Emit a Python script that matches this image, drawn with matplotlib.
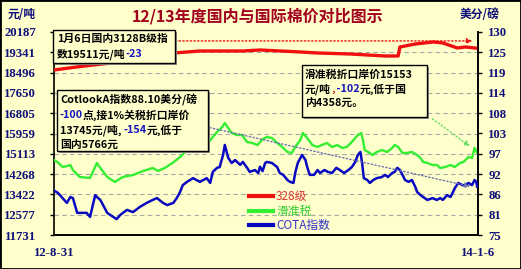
import matplotlib
matplotlib.use('Agg')
import matplotlib.pyplot as plt
from matplotlib.patches import Rectangle
from matplotlib.lines import Line2D

# 328级 (元/吨, 左轴)
red_day = [0, 20, 40, 60, 85, 110, 140, 170, 220, 240, 287, 307, 345, 386, 401, 403,
           421, 442, 453, 470, 479, 493]
red_val = [18605, 18700, 18790, 18870, 18940, 19150, 19313, 19396, 19396, 19438, 19355,
           19313, 19271, 19188, 19188, 19563, 19688, 19771, 19730, 19521, 19563, 19511]

# 滑准税 (元/吨, 左轴)
green_day = [0, 4, 10, 15, 19, 22, 30, 42, 50, 54, 62, 71, 80, 92, 104, 115, 121, 129,
             138, 147, 155, 164, 170, 178, 184, 190, 196, 199, 203, 207, 213, 219, 225,
             231, 237, 243, 248, 254, 260, 266, 272, 277, 281, 287, 290, 295, 301, 307,
             312, 318, 324, 330, 336, 341, 347, 351, 354, 358, 360, 362, 368, 371, 376,
             382, 388, 394, 397, 401, 406, 411, 417, 423, 427, 430, 435, 441, 446, 450,
             456, 462, 467, 473, 477, 483, 487, 490, 493]
green_val = [14855, 14772, 14564, 14600, 14647, 14439, 14147, 14105, 14730, 14522, 14147,
             13939, 14147, 14230, 14397, 14522, 14400, 14522, 14730, 14980, 15272, 15440,
             15397, 15480, 15772, 16021, 16230, 16396, 16188, 15980, 15897, 15897, 15605,
             15563, 15480, 15720, 15813, 15772, 15563, 15397, 15188, 15147, 15397, 15688,
             15980, 15772, 15480, 15397, 15480, 15563, 15397, 15480, 15355, 15397, 15605,
             15772, 15897, 15980, 15688, 15272, 15147, 15063, 15188, 15272, 15188, 15355,
             15480, 15397, 15147, 15147, 15188, 15063, 14938, 14772, 14730, 14647, 14647,
             14522, 14564, 14647, 14564, 14730, 14772, 14980, 14938, 15355, 15153]

# COTA指数 (美分/磅, 右轴)
blue_day = [0, 4, 7, 10, 15, 19, 22, 27, 30, 38, 42, 48, 50, 54, 62, 69, 73, 77, 85, 92,
            100, 108, 115, 120, 127, 132, 139, 143, 147, 150, 155, 162, 170, 178, 182,
            185, 190, 193, 197, 199, 203, 207, 211, 217, 220, 225, 228, 234, 238, 240,
            243, 246, 248, 254, 260, 263, 267, 272, 275, 279, 281, 284, 289, 293, 295,
            298, 303, 307, 310, 315, 319, 324, 329, 333, 338, 343, 347, 351, 354, 357,
            359, 361, 365, 368, 372, 376, 382, 386, 389, 394, 397, 400, 403, 406, 409,
            413, 417, 421, 423, 427, 430, 435, 441, 446, 450, 453, 458, 462, 465, 467,
            471, 476, 479, 483, 487, 490, 492, 493]
blue_val = [87.0, 86.5, 85.8, 85.0, 83.7, 85.3, 85.0, 81.0, 81.0, 81.0, 79.9, 85.8, 85.3,
            84.5, 81.0, 79.9, 79.3, 80.4, 81.8, 81.2, 82.6, 83.7, 84.5, 85.0, 83.7, 83.1,
            83.7, 85.0, 86.7, 88.5, 89.4, 90.4, 89.4, 90.4, 89.1, 92.1, 93.2, 93.4, 96.7,
            99.4, 95.9, 94.5, 95.3, 94.0, 94.8, 93.2, 92.1, 92.6, 91.8, 93.5, 92.3, 94.5,
            94.8, 94.5, 93.4, 91.8, 91.3, 89.9, 89.4, 89.1, 91.8, 94.5, 96.7, 95.3, 93.4,
            91.3, 91.3, 92.6, 91.8, 92.6, 92.1, 91.8, 93.2, 92.6, 91.8, 92.6, 93.4, 94.8,
            96.7, 97.5, 94.5, 90.4, 89.9, 89.1, 89.9, 90.4, 90.7, 91.3, 90.7, 91.8, 92.1,
            93.2, 92.6, 91.3, 89.9, 89.4, 89.9, 88.0, 86.7, 85.8, 85.3, 84.5, 85.0, 84.5,
            85.0, 84.5, 85.8, 85.3, 86.7, 87.7, 89.1, 88.5, 88.5, 89.1, 88.5, 89.9, 89.4,
            88.1]

left_ticks = [11731, 12577, 13422, 14268, 15113, 15959, 16805, 17650, 18496, 19341, 20187]
right_ticks = [75, 80.5, 86, 91.5, 97, 102.5, 108, 113.5, 119, 124.5, 130]
right_labels = ['75', '81', '86', '92', '97', '103', '108', '114', '119', '125', '130']
x_labels = ['12-8-31', '14-1-6']
n_days = 494

BG = '#FFFFCC'
NAVY = '#10107A'
RED = '#F01010'
GREEN = '#33EE33'
BLUE = '#0808C0'
CJK = ['Noto Sans CJK SC', 'DejaVu Sans']
NUM = 'Liberation Serif'

W, H = 521, 269
fig = plt.figure(figsize=(W / 100, H / 100), dpi=100, facecolor=BG)
ax = fig.add_axes([54 / W, 1 - 235 / H, 424 / W, 203 / H])
ax.set_facecolor(BG)
ax2 = ax.twinx()

ax.plot(red_day, red_val, color=RED, lw=2.4, zorder=3)
ax.plot(green_day, green_val, color=GREEN, lw=1.7, zorder=3)
ax2.plot(blue_day, blue_val, color=BLUE, lw=1.8, zorder=3)

ax.set_xlim(0, n_days)
ax.set_ylim(left_ticks[0], left_ticks[-1])
ax2.set_ylim(right_ticks[0], right_ticks[-1])
ax.set_yticks(left_ticks)
ax.set_yticklabels([str(v) for v in left_ticks])
ax2.set_yticks(right_ticks)
ax2.set_yticklabels(right_labels)
ax.set_xticks([0, n_days])
ax.set_xticklabels(x_labels)

for v in left_ticks[1:-1]:
    ax.axhline(v, color='#A8A8A8', lw=0.8, ls=(0, (4, 3)), zorder=1)

for a in (ax, ax2):
    a.spines['top'].set_visible(False)
    for s in a.spines.values():
        s.set_linewidth(1.2)
ax2.spines['left'].set_visible(False)

ax.tick_params(axis='y', length=3, width=1, pad=10, labelsize=9.2, labelcolor=NAVY)
ax2.tick_params(axis='y', length=3, width=1, pad=4.5, labelsize=9.2, labelcolor=NAVY)
ax.tick_params(axis='x', length=0, pad=9, labelsize=9.2, labelcolor=NAVY)
for lab in ax.get_yticklabels() + ax2.get_yticklabels() + ax.get_xticklabels():
    lab.set_fontfamily(NUM)
    lab.set_fontweight('bold')

# dotted pointers
ax2.annotate('', xy=(0.993, 0.956), xytext=(0.28, 0.956), xycoords='axes fraction',
             arrowprops=dict(arrowstyle='-|>', color=RED, ls=':', lw=1, mutation_scale=8))
ax2.annotate('', xy=(0.986, 0.429), xytext=(0.887, 0.581), xycoords='axes fraction',
             arrowprops=dict(arrowstyle='-|>', color='#66DD66', ls=':', lw=1, mutation_scale=8))
ax2.annotate('', xy=(0.988, 0.236), xytext=(0.361, 0.532), xycoords='axes fraction',
             arrowprops=dict(arrowstyle='-|>', color='#7070B0', ls=':', lw=1, mutation_scale=8))

handles = [Line2D([], [], color=RED, lw=3), Line2D([], [], color=GREEN, lw=3),
           Line2D([], [], color=BLUE, lw=3)]
leg = ax2.legend(handles, ['328级', '滑准税', 'COTA指数'], loc='upper left',
                 bbox_to_anchor=(243 / W, 1 - 184 / H), bbox_transform=fig.transFigure,
                 frameon=False, borderpad=0, handlelength=2.0, handletextpad=0.3,
                 labelspacing=0.15, prop={'family': CJK, 'size': 8.5},
                 labelcolor=['#DD3333', '#33CC33', '#3333CC'])
leg.set_zorder(6)

# title and units
fig.text(258 / W, 1 - 16 / H, '12/13年度国内与国际棉价对比图示', ha='center', va='center',
         color='#A0001E', fontsize=11.5, fontweight='bold', family=CJK)
fig.text(8 / W, 1 - 15 / H, '元/吨', ha='left', va='center', color=NAVY,
         fontsize=8.5, fontweight='bold', family=CJK)
fig.text(500 / W, 1 - 15 / H, '美分/磅', ha='right', va='center', color=NAVY,
         fontsize=8.5, fontweight='bold', family=CJK)


def box(x0, y0, x1, y1):
    fig.patches.append(Rectangle(((x0 + 2) / W, 1 - (y1 + 2) / H), (x1 - x0) / W,
                                 (y1 - y0) / H, transform=fig.transFigure,
                                 facecolor='#909090', edgecolor='none', zorder=4))
    fig.patches.append(Rectangle((x0 / W, 1 - y1 / H), (x1 - x0) / W, (y1 - y0) / H,
                                 transform=fig.transFigure, facecolor=BG,
                                 edgecolor='black', lw=1, zorder=4))


renderer = fig.canvas.get_renderer()


def put_lines(x0, y0, dy, lines, fs=7.8):
    for i, line in enumerate(lines):
        x = x0
        for s, c in line:
            t = fig.text(x / W, 1 - (y0 + i * dy) / H, s, color=c, fontsize=fs,
                         fontweight='bold', family=CJK, ha='left', va='center', zorder=5)
            x += t.get_window_extent(renderer).width


K = 'black'
BL = '#1515C0'
box(53, 30, 175, 63)
put_lines(57, 39, 15, [[('1月6日国内3128B级指', K)],
                       [('数19511元/吨', K), ('-23', BL)]])
box(57, 90, 208, 151)
put_lines(60, 100, 15, [[('CotlookA指数88.10美分/磅', K)],
                        [('-100', BL), ('点,接1%关税折口岸价', K)],
                        [('13745元/吨, ', K), ('-154', BL), ('元,低于', K)],
                        [('国内5766元', K)]])
box(302, 65, 427, 117)
put_lines(305, 75, 14, [[('滑准税折口岸价15153', K)],
                        [('元/吨', K), (',', '#CC2222'), (' -102', BL), ('元,低于国', K)],
                        [('内4358元。', K)]])

fig.patches.append(Rectangle((0, 0), 1, 1, transform=fig.transFigure, fill=False,
                             edgecolor='black', lw=2, zorder=10))

fig.savefig('out.png', dpi=100, facecolor=BG)
